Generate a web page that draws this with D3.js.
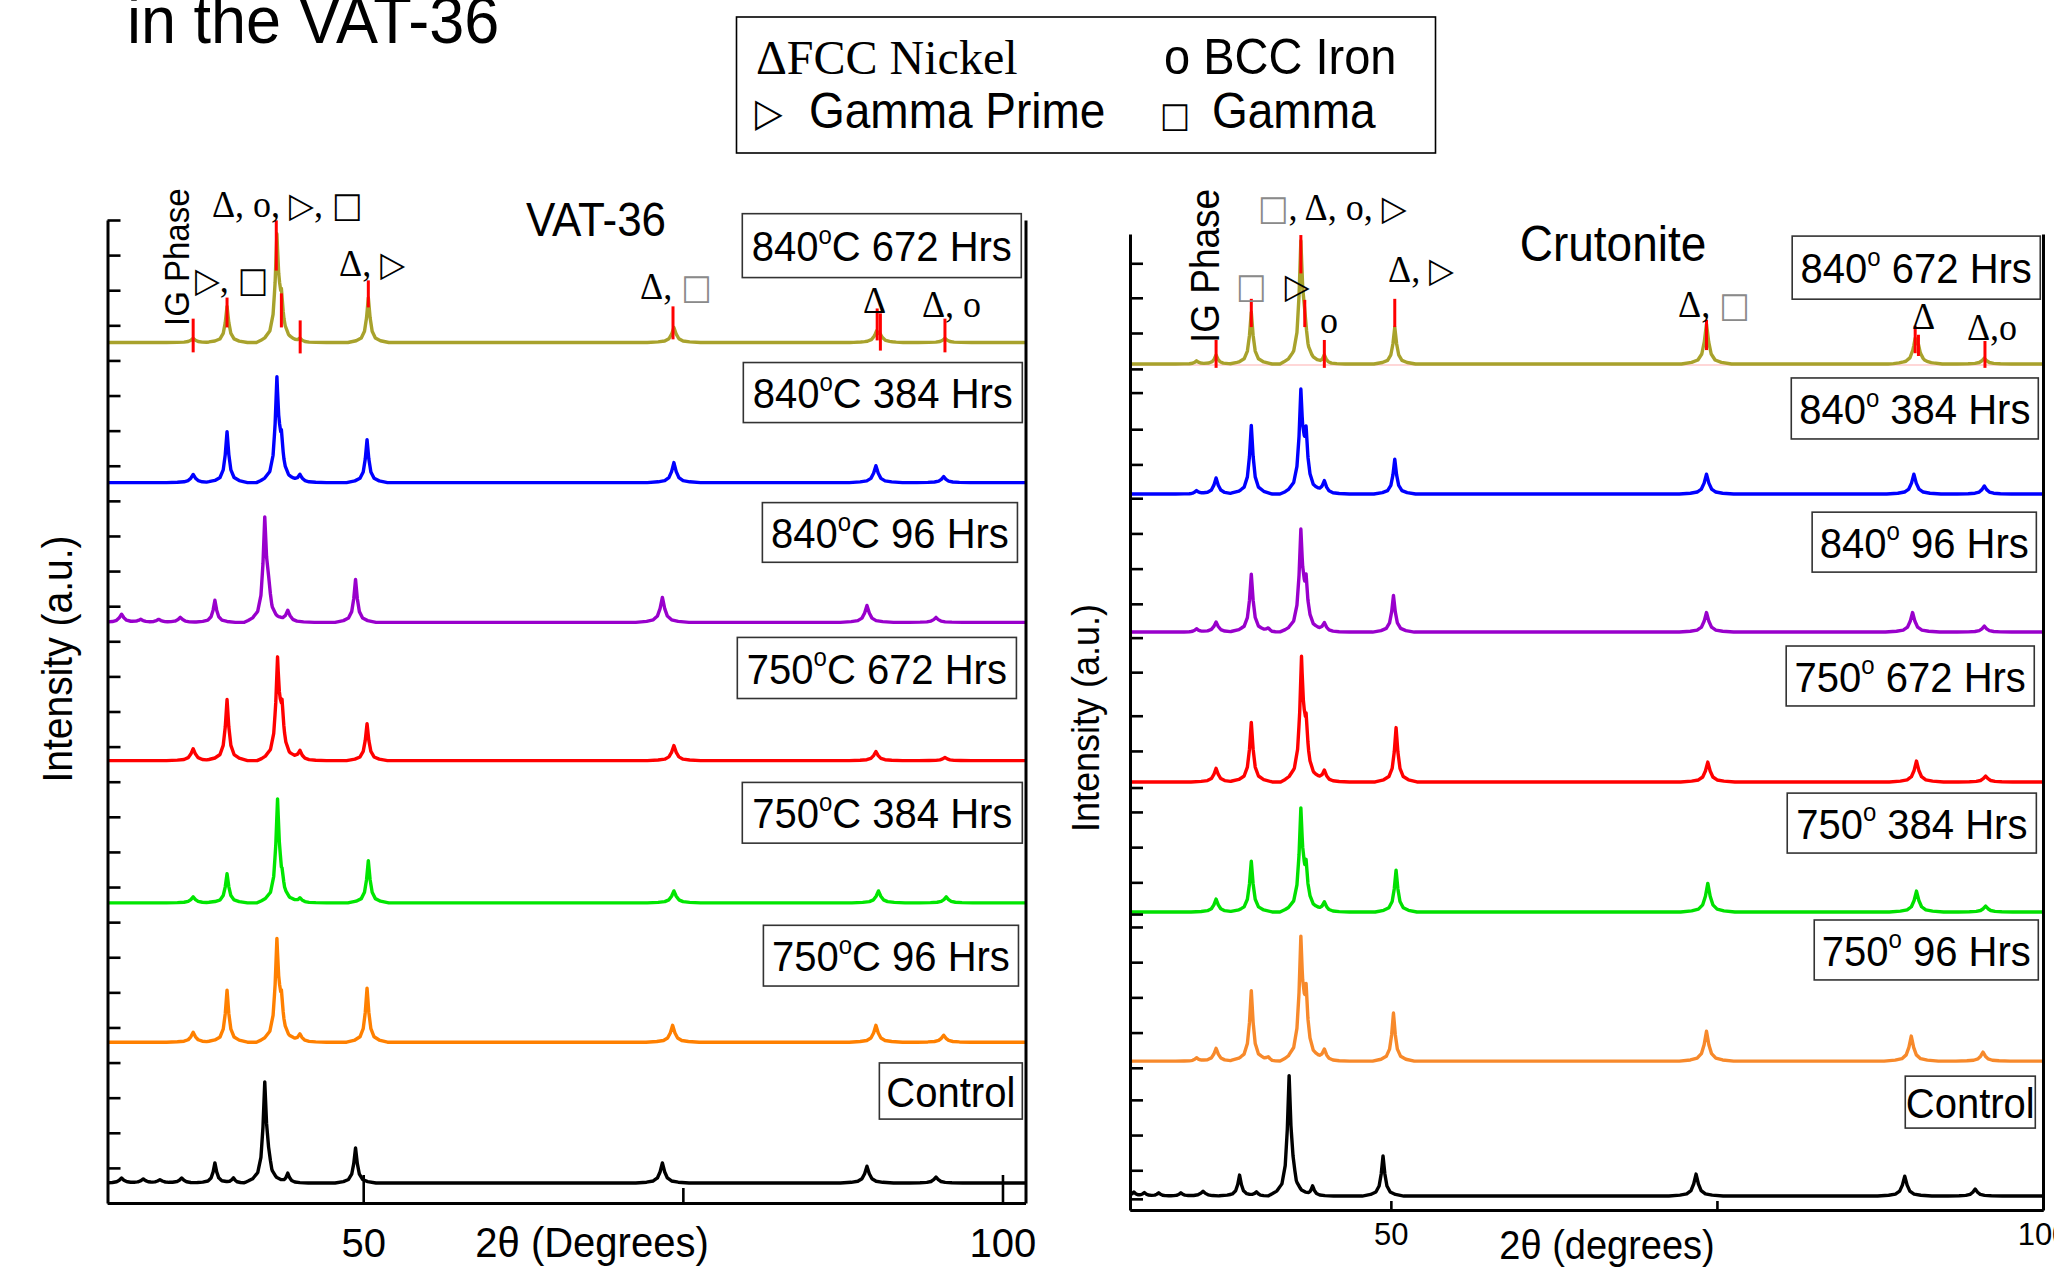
<!DOCTYPE html>
<html><head><meta charset="utf-8">
<script src="https://cdn.jsdelivr.net/npm/d3@7"></script>
<style>body{margin:0;background:#fff}svg{display:block}text{white-space:pre}</style>
</head><body>
<svg id="c" width="2054" height="1267"></svg>
<script>
// ---------------- DATA ----------------
// sample labels (top to bottom)
const vatLabels = ["840°C 672 Hrs","840°C 384 Hrs","840°C 96 Hrs","750°C 672 Hrs","750°C 384 Hrs","750°C 96 Hrs","Control"];
const cruLabels = ["840° 672 Hrs","840° 384 Hrs","840° 96 Hrs","750° 672 Hrs","750° 384 Hrs","750° 96 Hrs","Control"];
// vertical offsets of each pattern (intensity units, a.u.)
const vatBaselines = [24.51,20.52,16.54,12.6,8.55,4.58,0.57];
const cruBaselines = [24.27,20.54,16.58,12.28,8.55,4.27,0.40];
// peaks: [2theta, intensity above baseline, relative width]
const vat840_672 = [[36.7,0.12,1.3],[39.35,1.03],[43.25,2.9],[43.6,0.9],[45.05,0.12,1.3],[50.4,1.28],[74.3,0.43,1.3],[90.15,0.28,1.3],[90.45,0.14,1.3],[95.5,0.12,1.3]];
const vat840_384 = [[36.7,0.23,1.3],[39.35,1.45],[43.25,2.82],[43.6,0.88],[45.05,0.23,1.3],[50.3,1.22],[74.3,0.57,1.3],[90.1,0.48,1.3],[95.4,0.17,1.3]];
const vat840_96  = [[31.1,0.23,1.3],[32.6,0.08,1.3],[34.0,0.08,1.3],[35.7,0.14,1.3],[38.4,0.63],[42.3,2.85],[42.6,0.6],[44.1,0.34,1.3],[49.4,1.22],[73.4,0.71,1.3],[89.4,0.48,1.3],[94.8,0.14,1.3]];
const vat750_672 = [[36.7,0.34,1.3],[39.35,1.74],[43.3,2.7],[43.65,1.15],[45.05,0.28,1.3],[50.3,1.05],[74.3,0.43,1.3],[90.1,0.26,1.3],[95.5,0.09,1.3]];
const vat750_384 = [[36.7,0.17,1.3],[39.35,0.83],[43.3,2.88],[43.65,0.36],[45.05,0.14,1.3],[50.4,1.2],[74.3,0.34,1.3],[90.3,0.34,1.3],[95.6,0.17,1.3]];
const vat750_96  = [[36.7,0.28,1.3],[39.35,1.48],[43.25,2.76],[43.6,0.88],[45.05,0.23,1.3],[50.3,1.54],[74.2,0.48,1.3],[90.1,0.48,1.3],[95.4,0.2,1.3]];
const vatControl = [[31.1,0.14,1.3],[32.8,0.11,1.3],[34.1,0.09,1.3],[35.8,0.14,1.3],[38.4,0.57],[39.85,0.14],[42.3,2.8],[42.6,0.32],[44.1,0.28],[49.4,1.0],[73.4,0.57,1.3],[89.4,0.48,1.3],[94.8,0.17,1.3]];
const cru840_672 = [[35.1,0.09],[36.6,0.26],[39.3,1.49],[43.1,3.36],[43.4,0.7],[44.9,0.26],[50.3,1.06],[74.2,1.15,1.2],[90.2,0.62,1.3],[90.45,0.28,1.2],[95.5,0.17,1.3]];
const cru840_384 = [[35.1,0.09],[36.6,0.46,1.2],[39.3,1.97],[43.1,2.74],[43.5,1.42],[44.9,0.37,1.2],[50.3,1.0],[74.2,0.57,1.3],[90.1,0.57,1.3],[95.5,0.23,1.3]];
const cru840_96  = [[35.1,0.09],[36.6,0.29,1.2],[39.3,1.66],[40.6,0.09],[43.1,2.74],[43.5,1.14],[44.9,0.26,1.2],[50.2,1.05],[74.2,0.56,1.3],[90.0,0.56,1.3],[95.5,0.17,1.3]];
const cru750_672 = [[36.6,0.39,1.2],[39.3,1.71],[43.15,3.33],[43.5,1.24],[44.9,0.33,1.2],[50.4,1.56],[74.3,0.57,1.3],[90.3,0.6,1.3],[95.6,0.17,1.3]];
const cru750_384 = [[36.6,0.37,1.2],[39.3,1.46],[43.1,2.8],[43.5,0.97],[44.9,0.28,1.2],[50.4,1.2],[74.3,0.82,1.3],[90.3,0.6,1.3],[95.6,0.17,1.3]];
const cru750_96  = [[35.1,0.09],[36.6,0.37,1.2],[39.3,2.02],[40.6,0.09],[43.1,3.28],[43.5,1.6],[44.9,0.33,1.2],[50.2,1.38],[74.2,0.86,1.3],[89.9,0.72,1.3],[95.4,0.26,1.3]];
const cruControl = [[30.3,0.11],[31.1,0.09],[32.2,0.09],[33.9,0.09],[35.6,0.14,1.3],[38.4,0.6],[39.7,0.11],[42.2,3.38],[42.5,0.3],[44.0,0.29],[49.4,1.15],[73.4,0.63,1.3],[89.4,0.57,1.3],[94.8,0.2,1.3]];
// red reference markers on top pattern: [2theta, from, to] relative to its baseline
const vatMarkers = [[36.7,-0.28,0.68],[39.35,0.43,1.28],[43.2,2.05,3.48],[43.6,0.43,1.4],[45.07,-0.31,0.63],[50.4,1.0,1.77],[74.23,0.09,1.03],[90.2,0.06,0.97],[90.45,-0.23,0.83],[95.5,-0.28,0.68]];
const cruMarkers = [[36.6,-0.11,0.69],[39.3,1.06,1.87],[43.1,2.6,3.7],[43.4,1.06,1.84],[44.9,-0.11,0.69],[50.3,1.06,1.87],[74.2,0.4,1.27],[90.2,0.31,1.1],[90.45,0.23,0.84],[95.55,-0.11,0.66]];
// phase annotations
const vatAnnTexts = ["Δ, o, ▷, □","▷, □","Δ, ▷","Δ, □","Δ","Δ, o"];
const cruAnnTexts = ["□, Δ, o, ▷","□  ▷","o","Δ, ▷","Δ, □","Δ","Δ,o"];
const igLabel = "IG Phase";
// axis ticks
const xMajorTicks = [50,100];
const xMinorTicks = [75];
const vatYTicks = d3.range(0,29);
const cruYTicks = [0.32,1.14,2.15,3.16,4.08,5.09,6.10,7.11,8.12,8.49,9.40,10.41,11.42,12.12,13.17,14.18,15.43,16.42,17.39,18.40,19.41,20.42,21.39,22.40,23.45,24.13,25.16,26.17,27.16];
const legendItems = ["ΔFCC Nickel","o BCC Iron","▷","Gamma Prime","□","Gamma"];

// ---------------- LAYOUT / STYLE ----------------
const SANS="'Liberation Sans', Arial, sans-serif";
const SERIF="'Liberation Serif','Times New Roman',serif";
const SYM="'DejaVu Sans', sans-serif";
const ST=1.08;
const vatColors=["#a8a22c","#0000ff","#9900cc","#ff0000","#00e600","#ff8000","#000000"];
const cruColors=["#a8a22c","#0000ff","#9900cc","#ff0000","#00e000","#f7892b","#000000"];
const vatBoxes=[[79.65,101.47,28.18,26.36],[79.73,101.55,23.94,22.23],[81.22,101.17,19.95,18.25],[79.26,101.09,16.11,14.37],[79.65,101.55,11.98,10.25],[81.3,101.25,7.91,6.18],[90.37,101.55,3.99,2.39]];
const cruBoxes=[[80.77,99.79,27.94,26.13],[80.7,99.64,23.87,22.12],[82.3,99.49,20.02,18.3],[80.31,99.33,16.18,14.46],[80.39,99.49,11.96,10.24],[82.46,99.64,8.32,6.6],[89.44,99.41,3.84,2.35]];
const vatAnnPos=[[38.17,28.09,0],[36.84,25.95,0],[48.11,26.4,0],[71.65,25.75,1],[89.09,25.35,0],[93.7,25.24,0]];
const cruAnnPos=[[39.81,28.4,1],[38.13,26.16,1],[44.57,25.16,0],[49.78,26.62,0],[72.02,25.62,1],[89.96,25.27,0],[94.17,24.96,0]];

const svg=d3.select("#c");

function txt(g,s,x,y,o){
  o=o||{};
  return g.append("text")
    .attr("transform",`translate(${x},${y})${o.rot?` rotate(${o.rot})`:""} scale(1,${o.st||ST})`)
    .attr("font-family",o.fam||SANS).attr("font-size",o.size||40)
    .attr("text-anchor",o.anchor||"start").attr("fill",o.fill||"#000").text(s);
}
function symText(g,s,x,y,size,grayBox,anchor){
  const t=g.append("text").attr("transform",`translate(${x},${y}) scale(1,${ST})`)
    .attr("font-family",SERIF).attr("font-size",size).attr("text-anchor",anchor||"start");
  s.split(/([□▷])/).forEach(p=>{
    if(!p)return;
    const ts=t.append("tspan").text(p);
    if(p==="□"||p==="▷"){ts.attr("font-family",SYM).attr("font-size",size*0.9);
      if(p==="□"&&grayBox)ts.attr("fill","#8a8a8a");}
  });
  return t;
}

const OFF=[-1.6,-0.95,-0.55,-0.3,-0.14,0,0.14,0.3,0.55,0.95,1.6];
const REL=[0,0.04,0.1,0.25,0.55,1,0.55,0.25,0.1,0.04,0];
function prof(p,x){const w=p[2]||1;const d=(x-p[0])/w;if(d<=OFF[0]||d>=OFF[OFF.length-1])return 0;
  for(let i=1;i<OFF.length;i++){if(d<=OFF[i]){const t=(d-OFF[i-1])/(OFF[i]-OFF[i-1]);return p[1]*(REL[i-1]+t*(REL[i]-REL[i-1]));}}return 0;}
function trace(peaks,base,dom){const xs=new Set([dom[0],dom[1]]);
  peaks.forEach(p=>OFF.forEach(o=>{const x=+(p[0]+o*(p[2]||1)).toFixed(4);if(x>dom[0]&&x<dom[1])xs.add(x);}));
  return [...xs].sort((a,b)=>a-b).map(x=>[x,base+d3.sum(peaks,p=>prof(p,x))]);}

function panel(cfg){
  const x=d3.scaleLinear().domain(cfg.xd).range(cfg.xr);
  const y=d3.scaleLinear().domain([0,28]).range(cfg.yr);
  const g=svg.append("g");
  const line=d3.line().x(d=>x(d[0])).y(d=>y(d[1]));
  if(cfg.pink){g.append("line").attr("x1",x(cfg.xd[0])).attr("x2",x(cfg.xd[1])).attr("y1",y(cfg.base[0])+1).attr("y2",y(cfg.base[0])+1).attr("stroke","#ffb0b0").attr("stroke-width",1.2);}
  cfg.series.forEach((pk,i)=>{
    g.append("path").datum(trace(pk,cfg.base[i],cfg.xd)).attr("d",line).attr("fill","none")
      .attr("stroke",cfg.colors[i]).attr("stroke-width",3.4).attr("stroke-linejoin","round");
  });
  cfg.markers.forEach(m=>{
    g.append("line").attr("x1",x(m[0])).attr("x2",x(m[0])).attr("y1",y(cfg.base[0]+m[1])).attr("y2",y(cfg.base[0]+m[2]))
      .attr("stroke","#ff0000").attr("stroke-width",3);
  });
  // axes
  const ax=g.append("g").attr("transform",`translate(${cfg.xr[0]},0)`)
    .call(d3.axisLeft(y).tickValues(cfg.yt).tickSize(-13).tickSizeOuter(0).tickFormat(""));
  const axr=g.append("g").attr("transform",`translate(${cfg.xr[1]},0)`)
    .call(d3.axisRight(y).tickValues([]).tickSizeOuter(0));
  const axb=g.append("g").attr("transform",`translate(0,${cfg.yr[0]})`)
    .call(d3.axisBottom(x).tickValues(xMajorTicks).tickSize(-cfg.majT).tickSizeOuter(0).tickPadding(cfg.pad));
  const axm=g.append("g").attr("transform",`translate(0,${cfg.yr[0]})`)
    .call(d3.axisBottom(x).tickValues(xMinorTicks).tickSize(-cfg.minT).tickSizeOuter(0).tickFormat(""));
  [ax,axr,axb,axm].forEach(a=>{a.select(".domain").attr("stroke","#000").attr("stroke-width",3);
    a.selectAll(".tick line").attr("stroke","#000").attr("stroke-width",2.6);});
  axb.selectAll(".tick text").attr("font-family",SANS).attr("font-size",cfg.tickFs).attr("fill","#000");
  // labels in boxes
  cfg.labels.forEach((s,i)=>{
    const b=cfg.boxes[i];const x0=x(b[0]),x1=x(b[1]),y0=y(b[2]),y1=y(b[3]);
    g.append("rect").attr("x",x0).attr("y",y0).attr("width",x1-x0).attr("height",y1-y0)
      .attr("fill","#fff").attr("stroke","#333").attr("stroke-width",1.6);
    const fs=40;
    const t=g.append("text").attr("transform",`translate(${(x0+x1)/2},${(y0+y1)/2+fs*0.36*ST}) scale(1,${ST})`)
      .attr("text-anchor","middle").attr("font-family",SANS).attr("font-size",fs);
    const parts=s.split("°");
    t.append("tspan").text(parts[0]);
    if(parts.length>1){t.append("tspan").attr("font-size",fs*0.6).attr("dy",-fs*0.4).text("o");
      t.append("tspan").attr("dy",fs*0.4).text(parts[1]);}
  });
  // annotations
  cfg.ann.forEach((s,i)=>{const p=cfg.annPos[i];symText(g,s,x(p[0]),y(p[1]),36,p[2]===1);});
  txt(g,igLabel,x(cfg.ig[0]),y(cfg.ig[1]),{rot:-90,size:cfg.ig[2]});
  // titles
  txt(g,cfg.title,cfg.titlePos[0],cfg.titlePos[1],{size:cfg.titlePos[2],anchor:"middle"});
  txt(g,"Intensity (a.u.)",cfg.yl[0],cfg.yl[1],{rot:-90,size:cfg.yl[2],anchor:"middle"});
  txt(g,cfg.xlab,cfg.xl[0],cfg.xl[1],{size:cfg.xl[2],anchor:"middle"});
}

panel({xd:[30,101.8],xr:[107.5,1025.5],yr:[1203,220],series:[vat840_672,vat840_384,vat840_96,vat750_672,vat750_384,vat750_96,vatControl],
  base:vatBaselines,colors:vatColors,markers:vatMarkers,yt:vatYTicks,majT:28,minT:15,pad:26,tickFs:40,
  labels:vatLabels,boxes:vatBoxes,ann:vatAnnTexts,annPos:vatAnnPos,ig:[36.37,24.98,33],
  title:"VAT-36",titlePos:[596,236,44],yl:[72,659,39],xlab:"2θ (Degrees)",xl:[592,1257,40]});
panel({xd:[30,100],xr:[1130,2043],yr:[1210,234],series:[cru840_672,cru840_384,cru840_96,cru750_672,cru750_384,cru750_96,cruControl],
  base:cruBaselines,colors:cruColors,markers:cruMarkers,yt:cruYTicks,majT:9,minT:9,pad:13,tickFs:31,pink:true,
  labels:cruLabels,boxes:cruBoxes,ann:cruAnnTexts,annPos:cruAnnPos,ig:[36.82,24.87,37],
  title:"Crutonite",titlePos:[1613,261,46],yl:[1099,718,36],xlab:"2θ (degrees)",xl:[1607,1259,38]});

// page title (cut at top)
txt(svg,"in the VAT-36",127,43,{size:63,st:1.06});
// legend
const lg=svg.append("g");
lg.append("rect").attr("x",736.5).attr("y",17).attr("width",699).attr("height",136).attr("fill","#fff").attr("stroke","#000").attr("stroke-width",1.6);
txt(lg,legendItems[0],756,74,{fam:SERIF,size:48,st:1.0});
txt(lg,legendItems[1],1164,74,{size:47});
txt(lg,legendItems[2],755,126,{fam:SYM,size:36,st:1.1});
txt(lg,legendItems[3],809,128,{size:46});
txt(lg,legendItems[4],1160,127,{fam:SYM,size:32,st:1.1});
txt(lg,legendItems[5],1212,128,{size:46});
</script>
</body></html>
